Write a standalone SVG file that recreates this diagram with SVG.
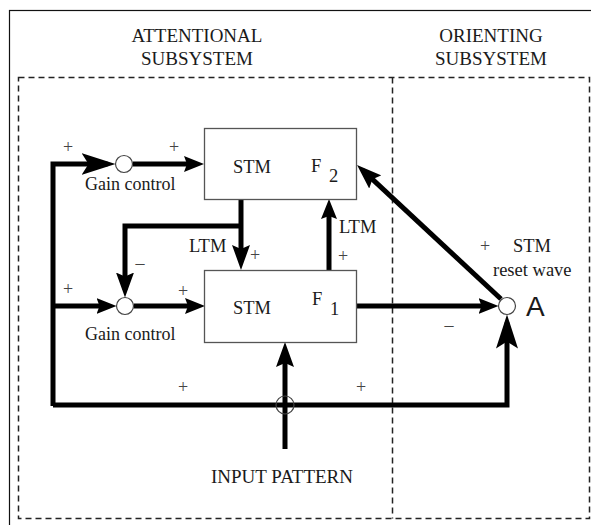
<svg xmlns="http://www.w3.org/2000/svg" width="591" height="525" viewBox="0 0 591 525">
<style>
text { font-family: "Liberation Serif", "Times New Roman", serif; fill: #1a1a1a; font-size: 18.5px; }
.title { text-anchor: middle; font-size: 19px; }
.sign { font-size: 18px; text-anchor: middle; fill: #444; }
.box { fill: #fff; stroke: #555; stroke-width: 1.3; }
.junc { fill: #fff; stroke: #444; stroke-width: 1.2; }
.cross { fill: none; stroke: #444; stroke-width: 1.2; }
.wire { fill: none; stroke: #000; stroke-width: 5; stroke-linejoin: miter; }
.frame { fill: none; stroke: #111; stroke-width: 1.2; }
.dash { fill: none; stroke: #222; stroke-width: 1.5; stroke-dasharray: 6 4; }
</style>
<defs>
<marker id="ah" viewBox="0 -8 20 16" markerWidth="20" markerHeight="16" refX="12" refY="0" orient="auto" markerUnits="userSpaceOnUse"><path d="M0,-8 L20,0 L0,8 L3,0 Z" fill="#000"/></marker>
<marker id="ahM" viewBox="0 -9 25 18" markerWidth="25" markerHeight="18" refX="17" refY="0" orient="auto" markerUnits="userSpaceOnUse"><path d="M0,-9 L25,0 L0,9 L4,0 Z" fill="#000"/></marker>
<marker id="ahL" viewBox="0 -11 34 22" markerWidth="34" markerHeight="22" refX="26" refY="0" orient="auto" markerUnits="userSpaceOnUse"><path d="M0,-11 L34,0 L0,11 L7,0 Z" fill="#000"/></marker>
</defs>
<rect width="591" height="525" fill="#fff"/>
<g id="frames">
<rect class="frame" x="9.5" y="10.5" width="620" height="540"/>
<rect class="dash" x="18.5" y="77.5" width="571" height="441"/>
<line class="dash" x1="392.5" y1="77.5" x2="392.5" y2="518.5"/>
</g>
<g id="titles">
<text class="title" x="197" y="42">ATTENTIONAL</text>
<text class="title" x="197" y="65">SUBSYSTEM</text>
<text class="title" x="491" y="42">ORIENTING</text>
<text class="title" x="491" y="65">SUBSYSTEM</text>
</g>
<g id="connectors">
<path class="wire" d="M53,406 L53,164 L107.5,164" marker-end="url(#ahL)"/>
<path class="wire" d="M53,306 L108.5,306" marker-end="url(#ah)"/>
<path class="wire" d="M53,405 L507,405 L507,322.5" marker-end="url(#ahL)"/>
<path class="wire" d="M132.5,164 L196,164" marker-end="url(#ah)"/>
<path class="wire" d="M133.5,306 L197,306" marker-end="url(#ah)"/>
<path class="wire" d="M241,199 L241,262" marker-end="url(#ahM)"/>
<path class="wire" d="M241,226 L125,226 L125,289.5" marker-end="url(#ahM)"/>
<path class="wire" d="M329,270 L329,207" marker-end="url(#ah)"/>
<path class="wire" d="M356,306 L490.5,306" marker-end="url(#ah)"/>
<path class="wire" d="M501,299 L362.9,170.4" marker-end="url(#ahM)"/>
<path class="wire" d="M285,449 L285,350" marker-end="url(#ahM)"/>
<circle class="cross" cx="285" cy="405" r="9"/>
</g>
<g id="F2">
<rect class="box" x="204.5" y="128.5" width="152" height="71"/>
<text x="233" y="173">STM</text>
<text x="311" y="172">F</text>
<text x="329" y="182">2</text>
</g>
<g id="F1">
<rect class="box" x="204.5" y="270.5" width="152" height="72"/>
<text x="233" y="314">STM</text>
<text x="312" y="305">F</text>
<text x="330" y="315">1</text>
</g>
<g id="gain1">
<circle class="junc" cx="124" cy="164" r="8.5"/>
<text x="85" y="190" style="font-size:18px">Gain control</text>
</g>
<g id="gain2">
<circle class="junc" cx="125" cy="306" r="8.5"/>
<text x="85" y="340" style="font-size:18px">Gain control</text>
</g>
<g id="A">
<circle class="junc" cx="507" cy="306" r="8.5"/>
<text x="526" y="316" style="font-family:'Liberation Sans', Arial, sans-serif; font-size:28px">A</text>
<text x="513" y="252">STM</text>
<text x="493" y="276">reset wave</text>
</g>
<g id="input">
<text class="title" x="282" y="483">INPUT PATTERN</text>
</g>
<g id="labels">
<text x="189" y="252">LTM</text>
<text x="339" y="233">LTM</text>
<text class="sign" x="68" y="153">+</text>
<text class="sign" x="174" y="153">+</text>
<text class="sign" x="68" y="295">+</text>
<text class="sign" x="183" y="297">+</text>
<text class="sign" x="255" y="261">+</text>
<text class="sign" x="343" y="262">+</text>
<text class="sign" x="485" y="252">+</text>
<text class="sign" x="183" y="393">+</text>
<text class="sign" x="361" y="393">+</text>
<text class="sign" x="140" y="269">–</text>
<text class="sign" x="449" y="331">–</text>
</g>
</svg>
